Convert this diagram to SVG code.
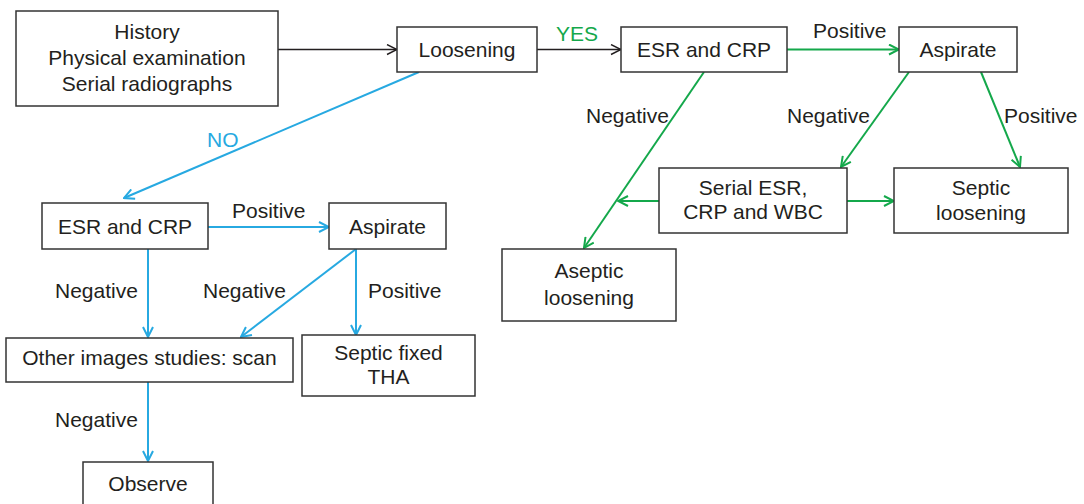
<svg xmlns="http://www.w3.org/2000/svg" width="1084" height="504" viewBox="0 0 1084 504">
  <style>
    .box { fill: #ffffff; stroke: #333333; stroke-width: 1.5; }
    .t { font-family: "Liberation Sans", Arial, sans-serif; font-size: 21px; fill: #231f20; text-anchor: middle; }
    .lbl { font-family: "Liberation Sans", Arial, sans-serif; font-size: 21px; fill: #231f20; }
    .k { stroke: #231f20; stroke-width: 1.4; fill: none; }
    .b { stroke: #27a9e1; stroke-width: 2; fill: none; }
    .g { stroke: #14a84b; stroke-width: 2; fill: none; }
  </style>
  <defs>
    <marker id="ak" viewBox="0 0 12 12" refX="11" refY="6" markerWidth="12" markerHeight="12" markerUnits="userSpaceOnUse" orient="auto">
      <path d="M1,1 L11,6 L1,11" fill="none" stroke="#231f20" stroke-width="1.4"/>
    </marker>
    <marker id="ab" viewBox="0 0 12 12" refX="11" refY="6" markerWidth="12" markerHeight="12" markerUnits="userSpaceOnUse" orient="auto">
      <path d="M1,1 L11,6 L1,11" fill="none" stroke="#27a9e1" stroke-width="2"/>
    </marker>
    <marker id="ag" viewBox="0 0 12 12" refX="11" refY="6" markerWidth="12" markerHeight="12" markerUnits="userSpaceOnUse" orient="auto">
      <path d="M1,1 L11,6 L1,11" fill="none" stroke="#14a84b" stroke-width="2"/>
    </marker>
  </defs>

  <g id="connectors">
    <line class="k" x1="278" y1="49.5" x2="397" y2="49.5" marker-end="url(#ak)"/>
    <line class="k" x1="537" y1="49.5" x2="621" y2="49.5" marker-end="url(#ak)"/>
    <line class="g" x1="787" y1="49.5" x2="899" y2="49.5" marker-end="url(#ag)"/>
    <line class="g" x1="909" y1="72" x2="841" y2="167" marker-end="url(#ag)"/>
    <line class="g" x1="981" y1="72" x2="1020" y2="167" marker-end="url(#ag)"/>
    <line class="g" x1="847" y1="201" x2="894" y2="201" marker-end="url(#ag)"/>
    <line class="g" x1="659" y1="201" x2="618" y2="201" marker-end="url(#ag)"/>
    <line class="g" x1="704" y1="72" x2="584" y2="248" marker-end="url(#ag)"/>
    <line class="b" x1="419" y1="72" x2="124" y2="198" marker-end="url(#ab)"/>
    <line class="b" x1="208" y1="227" x2="329" y2="227" marker-end="url(#ab)"/>
    <line class="b" x1="148" y1="249" x2="148" y2="337" marker-end="url(#ab)"/>
    <line class="b" x1="356" y1="249" x2="241" y2="337" marker-end="url(#ab)"/>
    <line class="b" x1="356" y1="249" x2="356" y2="335" marker-end="url(#ab)"/>
    <line class="b" x1="148" y1="382" x2="148" y2="461" marker-end="url(#ab)"/>

    <text class="lbl" x="556" y="41" style="fill:#14a84b">YES</text>
    <text class="lbl" x="207" y="147" style="fill:#27a9e1">NO</text>
    <text class="lbl" x="813" y="38">Positive</text>
    <text class="lbl" x="586" y="123">Negative</text>
    <text class="lbl" x="787" y="123">Negative</text>
    <text class="lbl" x="1004" y="123">Positive</text>
    <text class="lbl" x="232" y="218">Positive</text>
    <text class="lbl" x="55" y="298">Negative</text>
    <text class="lbl" x="203" y="298">Negative</text>
    <text class="lbl" x="368" y="298">Positive</text>
    <text class="lbl" x="55" y="427">Negative</text>
  </g>

  <g id="history">
    <rect class="box" x="16" y="11" width="262" height="95"/>
    <text class="t" x="147" y="39">History</text>
    <text class="t" x="147" y="65">Physical examination</text>
    <text class="t" x="147" y="91">Serial radiographs</text>
  </g>
  <g id="loosening">
    <rect class="box" x="397" y="27" width="140" height="45"/>
    <text class="t" x="467" y="57">Loosening</text>
  </g>
  <g id="esr-crp-top">
    <rect class="box" x="621" y="27" width="166" height="45"/>
    <text class="t" x="704" y="57">ESR and CRP</text>
  </g>
  <g id="aspirate-top">
    <rect class="box" x="899" y="27" width="118" height="45"/>
    <text class="t" x="958" y="57">Aspirate</text>
  </g>
  <g id="serial-esr">
    <rect class="box" x="659" y="168" width="188" height="65"/>
    <text class="t" x="753" y="195">Serial ESR,</text>
    <text class="t" x="753" y="219">CRP and WBC</text>
  </g>
  <g id="septic-loosening">
    <rect class="box" x="894" y="168" width="174" height="65"/>
    <text class="t" x="981" y="195">Septic</text>
    <text class="t" x="981" y="220">loosening</text>
  </g>
  <g id="aseptic-loosening">
    <rect class="box" x="502" y="249" width="174" height="72"/>
    <text class="t" x="589" y="278">Aseptic</text>
    <text class="t" x="589" y="305">loosening</text>
  </g>
  <g id="esr-crp-bottom">
    <rect class="box" x="42" y="203" width="166" height="46"/>
    <text class="t" x="125" y="234">ESR and CRP</text>
  </g>
  <g id="aspirate-bottom">
    <rect class="box" x="329" y="203" width="117" height="46"/>
    <text class="t" x="387.5" y="234">Aspirate</text>
  </g>
  <g id="other-images">
    <rect class="box" x="6" y="338" width="287" height="44"/>
    <text class="t" x="149.5" y="365">Other images studies: scan</text>
  </g>
  <g id="septic-fixed">
    <rect class="box" x="302" y="335" width="173" height="61"/>
    <text class="t" x="388.5" y="360">Septic fixed</text>
    <text class="t" x="388.5" y="384">THA</text>
  </g>
  <g id="observe">
    <rect class="box" x="83" y="462" width="130" height="50"/>
    <text class="t" x="148" y="491">Observe</text>
  </g>
</svg>
